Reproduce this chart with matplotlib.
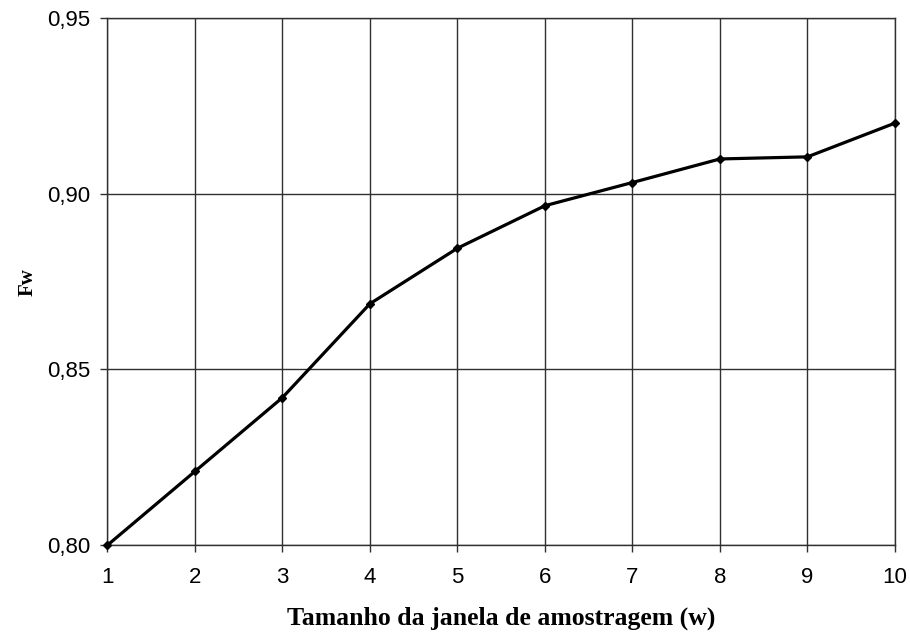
import matplotlib
matplotlib.use("Agg")
import matplotlib.pyplot as plt
from matplotlib.ticker import FuncFormatter

# window size w and measured Fw
window_sizes = [1, 2, 3, 4, 5, 6, 7, 8, 9, 10]
fw_values = [0.800, 0.821, 0.842, 0.8687, 0.8845, 0.8966, 0.9032, 0.9099, 0.9105, 0.9201]
y_ticks = [0.80, 0.85, 0.90, 0.95]


def main():
    fig = plt.figure(figsize=(9.1, 6.34), dpi=100)
    ax = fig.add_axes([0.118, 0.140, 0.8655, 0.8316])

    ax.plot(window_sizes, fw_values, color='black', linewidth=2.3,
            marker='D', markersize=4.5, zorder=3, clip_on=False)

    ax.set_xlim(1, 10)
    ax.set_ylim(0.80, 0.95)
    ax.set_xticks(window_sizes)
    ax.set_yticks(y_ticks)
    ax.yaxis.set_major_formatter(FuncFormatter(lambda v, p: f"{v:.2f}".replace('.', ',')))

    ax.grid(True, color='#303030', linewidth=1.0)
    ax.set_axisbelow(True)
    for s in ax.spines.values():
        s.set_color('#303030')
        s.set_linewidth(1.0)

    ax.tick_params(direction='out', length=5, width=1, color='#303030', labelsize=16)
    ax.tick_params(axis='x', pad=11)
    ax.tick_params(axis='y', pad=7)
    for lbl in ax.get_xticklabels() + ax.get_yticklabels():
        lbl.set_family('Liberation Sans')

    ax.set_xlabel('Tamanho da janela de amostragem (w)', fontsize=18.5, fontweight='bold',
                  family='Liberation Serif', labelpad=13)
    ax.set_ylabel('Fw', fontsize=15, fontweight='bold', family='Liberation Serif',
                  labelpad=7)

    fig.savefig('out.png', dpi=100)


if __name__ == "__main__":
    main()
